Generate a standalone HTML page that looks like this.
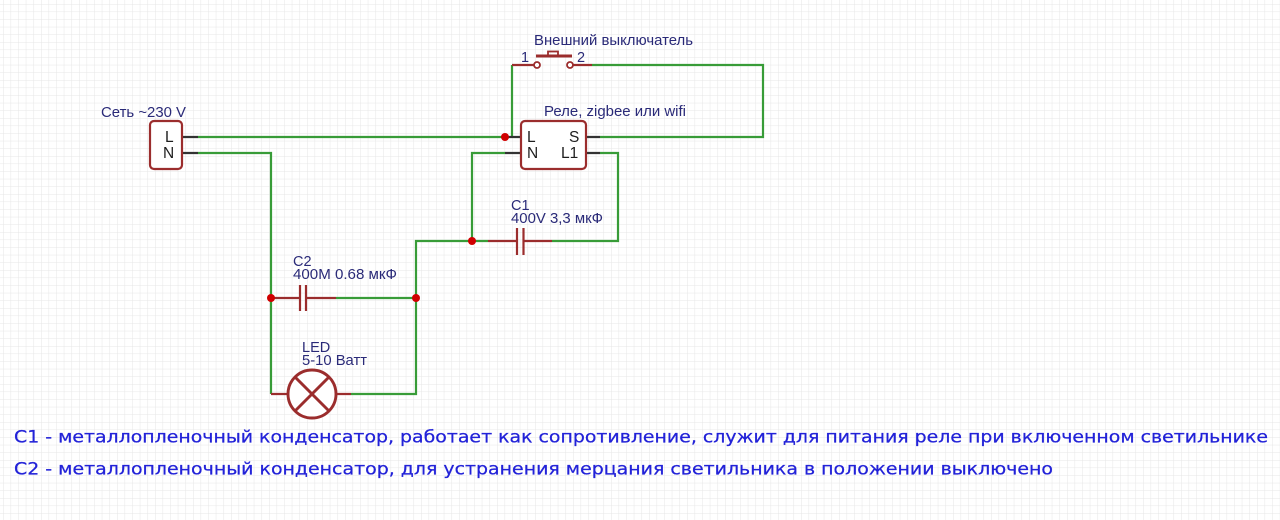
<!DOCTYPE html>
<html>
<head>
<meta charset="utf-8">
<style>
html,body{margin:0;padding:0;background:#fff;}
svg{display:block;}
.lbl{font-family:"Liberation Sans",Arial,sans-serif;font-size:14.5px;fill:#2a2a78;}
.pin{font-family:"Liberation Sans",Arial,sans-serif;font-size:15.5px;fill:#1e1e1e;}
.note{font-family:"DejaVu Sans","Liberation Sans",sans-serif;font-size:17px;fill:#2222d8;stroke:#2222d8;stroke-width:0.25;}
</style>
</head>
<body>
<svg width="1280" height="520" viewBox="0 0 1280 520" xmlns="http://www.w3.org/2000/svg">
<defs>
<pattern id="g" x="3" y="4" width="7.6" height="7.6" patternUnits="userSpaceOnUse">
<path d="M 7.6 0 L 0 0 0 7.6" fill="none" stroke="#e6e6e6" stroke-width="1"/>
</pattern>
</defs>
<rect width="1280" height="520" fill="#fff"/>
<rect width="1280" height="520" fill="url(#g)"/>

<!-- green wires -->
<g fill="none" stroke="#389c38" stroke-width="2.2">
<path d="M198 137 H505"/>
<path d="M198 153 H271 V394"/>
<path d="M512 137 V65"/>
<path d="M592 65 H763 V137 H600"/>
<path d="M600 153 H618 V241 H552"/>
<path d="M505 153 H472 V241 H488"/>
<path d="M472 241 H416 V394 H351"/>
<path d="M336 298 H416"/>
</g>

<!-- dark pins -->
<g stroke="#333" stroke-width="2.2">
<path d="M182 137 H198 M182 153 H198"/>
<path d="M505 137 H521 M505 153 H521"/>
<path d="M586 137 H600 M586 153 H600"/>
</g>

<!-- components (dark red) -->
<g fill="none" stroke="#9b2d2d" stroke-width="2.2">
<rect x="150" y="121" width="32" height="48" rx="4" fill="#fff"/>
<rect x="521" y="121" width="65" height="48" rx="4" fill="#fff"/>
<!-- switch -->
<path d="M512 65 H534"/>
<path d="M573 65 H592"/>
<path d="M536 56 H572" stroke-width="3"/>
<rect x="548" y="51.5" width="10" height="4" stroke-width="1.8"/>
<!-- C2 -->
<path d="M271 298 H300 M306 298 H336"/>
<path d="M300 285 V311 M306 285 V311"/>
<!-- C1 -->
<path d="M488 241 H517 M524 241 H552"/>
<path d="M517 228 V255 M523.5 228 V255"/>
<!-- LED -->
<path d="M271 394 H287 M337 394 H351"/>
<circle cx="312" cy="394" r="24" stroke-width="2.9" fill="#fff"/>
<path d="M295 377 L329 411 M329 377 L295 411" stroke-width="2.9"/>
</g>
<g fill="#fff" stroke="#9b2d2d" stroke-width="1.8">
<circle cx="537" cy="65" r="3"/>
<circle cx="570" cy="65" r="3"/>
</g>

<!-- junction dots -->
<g fill="#d00000">
<circle cx="505" cy="137" r="4"/>
<circle cx="472" cy="241" r="4"/>
<circle cx="271" cy="298" r="4"/>
<circle cx="416" cy="298" r="4"/>
</g>

<!-- labels -->
<text class="lbl" x="101" y="117" textLength="85" lengthAdjust="spacingAndGlyphs">Сеть ~230 V</text>
<text class="pin" x="165" y="142">L</text>
<text class="pin" x="163" y="158">N</text>

<text class="lbl" x="534" y="45" textLength="159" lengthAdjust="spacingAndGlyphs">Внешний выключатель</text>
<text class="lbl" x="521" y="62">1</text>
<text class="lbl" x="577" y="62">2</text>

<text class="lbl" x="544" y="116" textLength="142" lengthAdjust="spacingAndGlyphs">Реле, zigbee или wifi</text>
<text class="pin" x="527" y="142">L</text>
<text class="pin" x="527" y="158">N</text>
<text class="pin" x="569" y="142">S</text>
<text class="pin" x="561" y="158">L1</text>

<text class="lbl" x="511" y="210">C1</text>
<text class="lbl" x="511" y="223" textLength="92" lengthAdjust="spacingAndGlyphs">400V 3,3 мкФ</text>

<text class="lbl" x="293" y="266">C2</text>
<text class="lbl" x="293" y="279" textLength="104" lengthAdjust="spacingAndGlyphs">400M 0.68 мкФ</text>

<text class="lbl" x="302" y="352">LED</text>
<text class="lbl" x="302" y="365" textLength="65" lengthAdjust="spacingAndGlyphs">5-10 Ватт</text>

<text class="note" x="14" y="442.5" textLength="1254" lengthAdjust="spacingAndGlyphs">C1 - металлопленочный конденсатор, работает как сопротивление, служит для питания реле при включенном светильнике</text>
<text class="note" x="14" y="474.5" textLength="1039" lengthAdjust="spacingAndGlyphs">C2 - металлопленочный конденсатор, для устранения мерцания светильника в положении выключено</text>
</svg>
</body>
</html>
